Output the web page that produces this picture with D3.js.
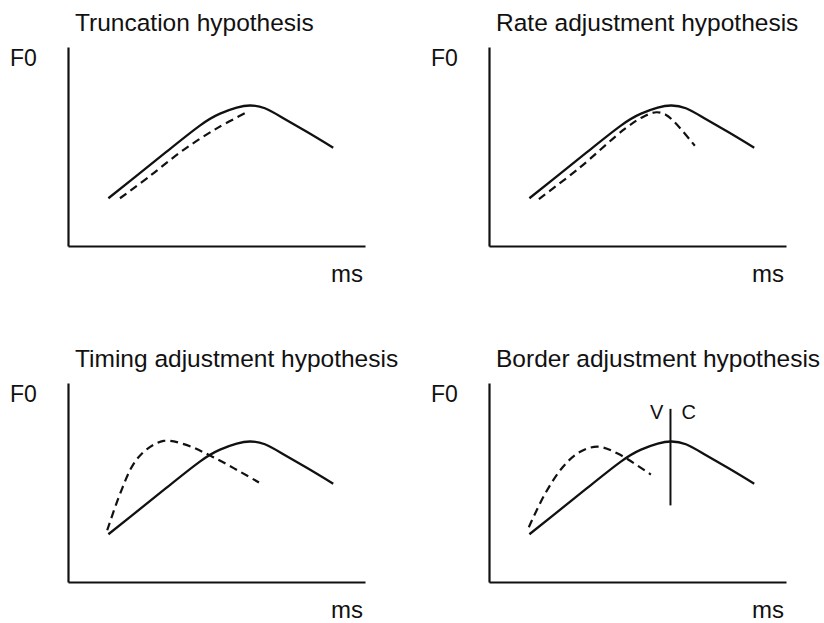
<!DOCTYPE html>
<html>
<head>
<meta charset="utf-8">
<script src="https://cdn.jsdelivr.net/npm/d3@7"></script>
<style>
  body { margin: 0; background: #fff; }
  text { font-family: "Liberation Sans", Arial, sans-serif; fill: #111; }
</style>
</head>
<body>
<script>
const width = 824;
const height = 623;

// panel titles, in reading order
const titles = ['Truncation hypothesis', 'Rate adjustment hypothesis',
                'Timing adjustment hypothesis', 'Border adjustment hypothesis'];

// target contour (solid), same in every panel, in 0-100 units of ms / F0
const solidMs = [13.6, 22, 33.2, 44.4, 51.2, 56.8, 61.3, 66.3, 72.5, 80.4, 89.3];
const solidF0 = [24, 34, 47.4, 60.5, 66.5, 69.5, 70.6, 69.2, 64.2, 57.4, 49.4];

// realised contours (dashed)
const truncMs = [17.5, 27.6, 38.8, 50.1, 60.2];
const truncF0 = [24, 35.2, 48.2, 59.1, 67.2];

const rateMs = [16.8, 30, 45.7, 52, 56.4, 59.5, 62.5, 69.3];
const rateF0 = [23.6, 38.7, 58.8, 65, 67.2, 66, 62.2, 50.4];

const timingMs = [13.2, 17.6, 22.1, 26.6, 32.2, 39, 49.1, 64.3];
const timingF0 = [26, 44.6, 59.4, 66.8, 70.9, 69.3, 62.6, 50];

const borderMs = [13.4, 18.9, 24.8, 30.4, 36.6, 43.5, 54.5];
const borderF0 = [27.5, 44.4, 57.7, 65.2, 68, 64.4, 54];

// V | C boundary in the last panel
const boundaryMs = [61.1, 61.1];
const boundaryF0 = [38.5, 87];

const svg = d3.select('body').append('svg').attr('width', width).attr('height', height);

function zip(xs, ys) { return xs.map(function(x, i) { return [x, ys[i]]; }); }

const dashed = [zip(truncMs, truncF0), zip(rateMs, rateF0), zip(timingMs, timingF0), zip(borderMs, borderF0)];
const origins = [[68, 246], [489, 246], [68, 582], [489, 582]];

const xs = d3.scaleLinear().domain([0, 100]).range([0, 297]);
const ys = d3.scaleLinear().domain([0, 100]).range([0, -199]);

const smooth = d3.line()
  .x(function(d) { return xs(d[0]); })
  .y(function(d) { return ys(d[1]); })
  .curve(d3.curveNatural);

const line = d3.line()
  .x(function(d) { return xs(d[0]); })
  .y(function(d) { return ys(d[1]); })
  .curve(d3.curveCatmullRom.alpha(0.5));

titles.forEach(function(t, i) {
  const g = svg.append('g').attr('transform', 'translate(' + origins[i][0] + ',' + origins[i][1] + ')');

  g.append('g').call(d3.axisBottom(xs).ticks(0).tickSizeOuter(0))
    .select('.domain').attr('stroke', '#111').attr('stroke-width', 2.2);
  g.append('g').call(d3.axisLeft(ys).ticks(0).tickSizeOuter(0))
    .select('.domain').attr('stroke', '#111').attr('stroke-width', 2.2);

  g.append('text').attr('x', 7).attr('y', -215).style('font-size', '24.5px').text(t);
  g.append('text').attr('x', -58).attr('y', -180).style('font-size', '23px').text('F0');
  g.append('text').attr('x', xs(100) - 2).attr('y', 36).attr('text-anchor', 'end')
    .style('font-size', '24px').text('ms');

  g.append('path').datum(zip(solidMs, solidF0)).attr('d', smooth)
    .attr('fill', 'none').attr('stroke', '#111').attr('stroke-width', 2.3);

  g.append('path').datum(dashed[i]).attr('d', line)
    .attr('fill', 'none').attr('stroke', '#111').attr('stroke-width', 2.2)
    .attr('stroke-dasharray', '8,5');

  if (i == 3) {
    g.append('line')
      .attr('x1', xs(boundaryMs[0])).attr('x2', xs(boundaryMs[1]))
      .attr('y1', ys(boundaryF0[0])).attr('y2', ys(boundaryF0[1]))
      .attr('stroke', '#111').attr('stroke-width', 2);
    g.append('text').attr('x', xs(boundaryMs[0]) - 7).attr('y', ys(boundaryF0[1]) + 10)
      .attr('text-anchor', 'end').style('font-size', '20px').text('V');
    g.append('text').attr('x', xs(boundaryMs[0]) + 11).attr('y', ys(boundaryF0[1]) + 10)
      .style('font-size', '20px').text('C');
  }
});
</script>
</body>
</html>
